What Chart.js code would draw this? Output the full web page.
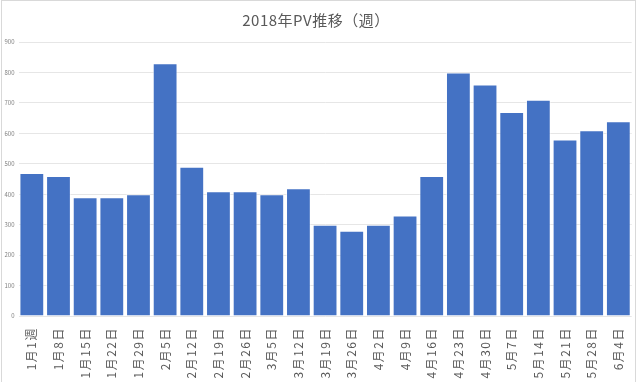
<!DOCTYPE html>
<html>
<head>
<meta charset="utf-8">
<script src="https://cdn.jsdelivr.net/npm/chart.js@4"></script>
<style>
html,body{margin:0;padding:0;background:#fff;overflow:hidden;}
#wrap{position:relative;width:644px;height:382px;}
#frame{position:absolute;left:1px;top:0px;width:635px;height:400px;border:1px solid #d9d9d9;box-sizing:border-box;pointer-events:none;}
canvas{position:absolute;left:0;top:0;}
</style>
</head>
<body>
<div id="wrap">
<canvas id="c" width="644" height="382"></canvas>
<div id="frame"></div>
</div>
<script>
const titleText = "2018年PV推移（週）";
const categories = ["1月1週","1月8日","1月15日","1月22日","1月29日","2月5日","2月12日","2月19日","2月26日","3月5日","3月12日","3月19日","3月26日","4月2日","4月9日","4月16日","4月23日","4月30日","5月7日","5月14日","5月21日","5月28日","6月4日"];
const pvValues = [470,460,390,390,400,830,490,410,410,400,420,300,280,300,330,460,800,760,670,710,580,610,640];
const yMin = 0, yMax = 900, yStep = 100;

const FONT = "'Noto Sans CJK JP','Noto Sans',sans-serif";

// letter spacing for x tick labels and title (Excel-like spacing)
const spacingPlugin = {
  id: 'spacing',
  beforeDraw(chart) {
    const ctx = chart.ctx;
    const xs = chart.scales.x;
    if (xs && !xs._spaced) {
      const orig = xs.drawLabels;
      xs.drawLabels = function(area) {
        ctx.save(); ctx.letterSpacing = '1.5px'; orig.call(this, area); ctx.restore();
      };
      xs._spaced = true;
    }
    const tb = chart.titleBlock;
    if (tb && !tb._spaced) {
      const origT = tb.draw;
      tb.draw = function() {
        ctx.save(); ctx.letterSpacing = '0.5px'; origT.apply(this, arguments); ctx.restore();
      };
      tb._spaced = true;
    }
  }
};

new Chart(document.getElementById('c'), {
  type: 'bar',
  data: {
    labels: categories,
    datasets: [{
      label: 'PV',
      data: pvValues,
      backgroundColor: '#4472C4',
      borderColor: 'rgba(255,255,255,0.55)',
      borderWidth: 1,
      barPercentage: 0.93,
      categoryPercentage: 1.0
    }]
  },
  plugins: [spacingPlugin],
  options: {
    responsive: false,
    animation: false,
    devicePixelRatio: 1,
    layout: { padding: { left: 0, right: 12, top: 0, bottom: 0 } },
    plugins: {
      legend: { display: false },
      tooltip: { enabled: false },
      title: {
        display: true,
        text: titleText,
        color: '#595959',
        font: { family: FONT, size: 15, weight: 'normal', lineHeight: 1.2 },
        padding: { top: 11, bottom: 13 }
      }
    },
    scales: {
      x: {
        grid: { display: false, drawTicks: false },
        border: { display: false },
        ticks: {
          color: '#595959',
          font: { family: FONT, size: 12 },
          minRotation: 90, maxRotation: 90,
          autoSkip: false,
          padding: 11
        },
        afterFit: s => { s.height = 66; }
      },
      y: {
        min: yMin, max: yMax,
        grid: { color: '#e6e6e6', drawTicks: false, lineWidth: 1 },
        border: { display: false },
        ticks: {
          stepSize: yStep,
          color: '#808080',
          font: { family: FONT, size: 6 },
          padding: 4
        },
        afterFit: s => { s.width = 18.5; }
      }
    }
  }
});
</script>
</body>
</html>
